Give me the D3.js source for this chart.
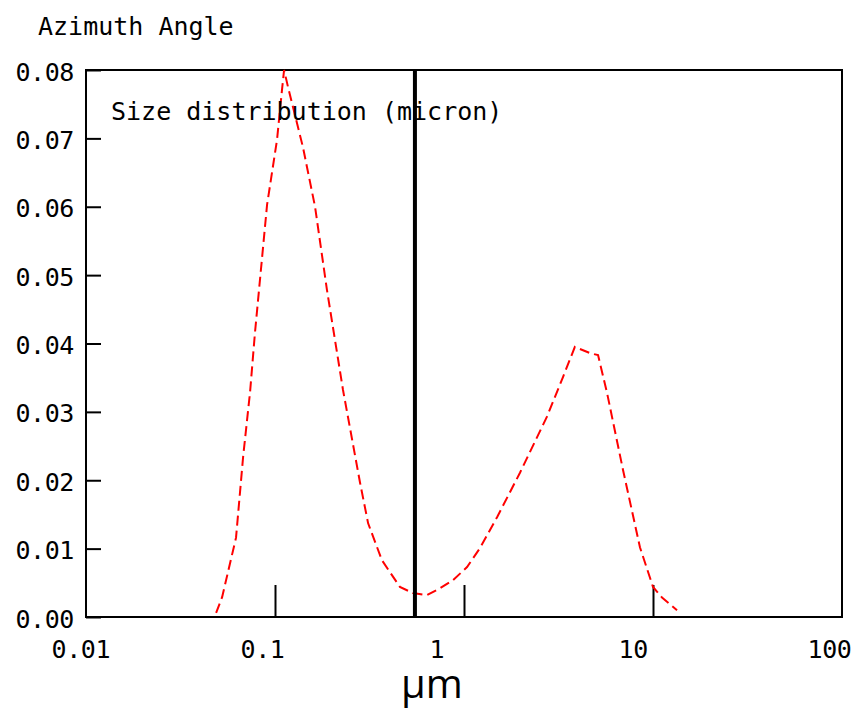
<!DOCTYPE html>
<html>
<head>
<meta charset="utf-8">
<script src="https://cdn.jsdelivr.net/npm/d3@7"></script>
<style>
  html, body { margin: 0; padding: 0; background: #fff; }
  svg { display: block; }
  .mono { font-family: "DejaVu Sans Mono", "Liberation Mono", monospace; font-size: 25px; letter-spacing: -0.4px; fill: #000; }
  .mono.wide { letter-spacing: 0px; }
</style>
</head>
<body>
<svg id="chart" width="851" height="708"></svg>
<script>
// Particle size (micron) and relative frequency of the distribution curve
const sizes = [0.0488, 0.0525, 0.0622, 0.0678, 0.0738, 0.0783, 0.0908, 0.1025, 0.1089, 0.1117,
  0.1172, 0.1406, 0.1629, 0.1884, 0.229, 0.282, 0.311, 0.368, 0.458, 0.537,
  0.637, 0.746, 0.875, 1.038, 1.216, 1.496, 1.978, 2.748, 3.34, 3.86,
  4.64, 5.12, 5.71, 6.94, 8.53, 10.0, 11.2, 13.4];
const frequency = [0.0006, 0.0029, 0.0116, 0.0234, 0.0329, 0.0415, 0.0603, 0.0698, 0.0771, 0.0800,
  0.0775, 0.0687, 0.0600, 0.0478, 0.0332, 0.0196, 0.0137, 0.0083, 0.0044, 0.0035,
  0.0032, 0.0042, 0.0054, 0.0073, 0.0101, 0.0146, 0.0211, 0.0293, 0.0351, 0.0395,
  0.0386, 0.0383, 0.0328, 0.0215, 0.0102, 0.0044, 0.0028, 0.0010];

// Cut-off size marked by the vertical bar
const cutoff = 0.55;

const xTickValues = [0.01, 0.1, 1, 10, 100];
const xTickLabels = ["0.01", "0.1", "1", "10", "100"];
const yTickValues = [0, 0.01, 0.02, 0.03, 0.04, 0.05, 0.06, 0.07, 0.08];

const titleText = "Azimuth Angle";
const plotLabel = "Size distribution (micron)";
const unitLabel = "\u03bcm";

const svg = d3.select("#chart");
const plotLeft = 86, plotRight = 842, plotTop = 70, plotBottom = 617;

const x = d3.scaleLog().domain([0.01, 100]).range([plotLeft, plotRight]);
const y = d3.scaleLinear().domain([0, 0.08]).range([plotBottom, plotTop]);

// Y axis: inward ticks, labels on the left
const yAxis = d3.axisLeft(y)
  .tickValues(yTickValues)
  .tickSizeInner(-15)
  .tickSizeOuter(0)
  .tickPadding(12)
  .tickFormat(d3.format(".2f"));
const gy = svg.append("g").attr("transform", `translate(${plotLeft},0)`).call(yAxis);
gy.attr("font-family", null).attr("font-size", null);
gy.select(".domain").remove();
gy.selectAll("line").attr("stroke", "#000").attr("stroke-width", 2);
gy.selectAll("text").attr("class", "mono").attr("dy", 10);

// X axis: tall inward ticks (interior decades only), labels left-aligned ahead of each tick
const xAxis = d3.axisBottom(x)
  .tickValues(xTickValues)
  .tickSizeInner(-32)
  .tickSizeOuter(0)
  .tickFormat((d, i) => xTickLabels[i]);
const gx = svg.append("g").attr("transform", `translate(0,${plotBottom})`).call(xAxis);
gx.attr("font-family", null).attr("font-size", null);
gx.select(".domain").remove();
gx.selectAll(".tick line")
  .attr("stroke", "#000").attr("stroke-width", 2)
  .attr("display", d => (d === 0.01 || d === 100) ? "none" : null);
gx.selectAll("text").attr("class", "mono")
  .attr("text-anchor", "start").attr("x", -35).attr("y", 41).attr("dy", null);

// Plot frame
svg.append("rect")
  .attr("x", plotLeft).attr("y", plotTop)
  .attr("width", plotRight - plotLeft).attr("height", plotBottom - plotTop)
  .attr("fill", "none").attr("stroke", "#000").attr("stroke-width", 2);

// Distribution curve
const line = d3.line()
  .x((d, i) => x(sizes[i]))
  .y(d => y(d));
svg.append("path")
  .datum(frequency)
  .attr("d", line)
  .attr("fill", "none")
  .attr("stroke", "#ff0000")
  .attr("stroke-width", 2)
  .attr("stroke-dasharray", "10,5");

// Cut-off bar
svg.append("line")
  .attr("x1", x(cutoff)).attr("x2", x(cutoff))
  .attr("y1", plotTop).attr("y2", plotBottom)
  .attr("stroke", "#000").attr("stroke-width", 4);

// Texts
svg.append("text").attr("class", "mono wide").attr("x", 38).attr("y", 35).text(titleText);
svg.append("text").attr("class", "mono wide").attr("x", 111).attr("y", 120).text(plotLabel);
svg.append("text")
  .attr("x", 432).attr("y", 698)
  .attr("text-anchor", "middle")
  .attr("font-family", "'Open Sans', 'Noto Sans', sans-serif")
  .attr("font-size", 40)
  .attr("fill", "#000")
  .text(unitLabel);
</script>
</body>
</html>
